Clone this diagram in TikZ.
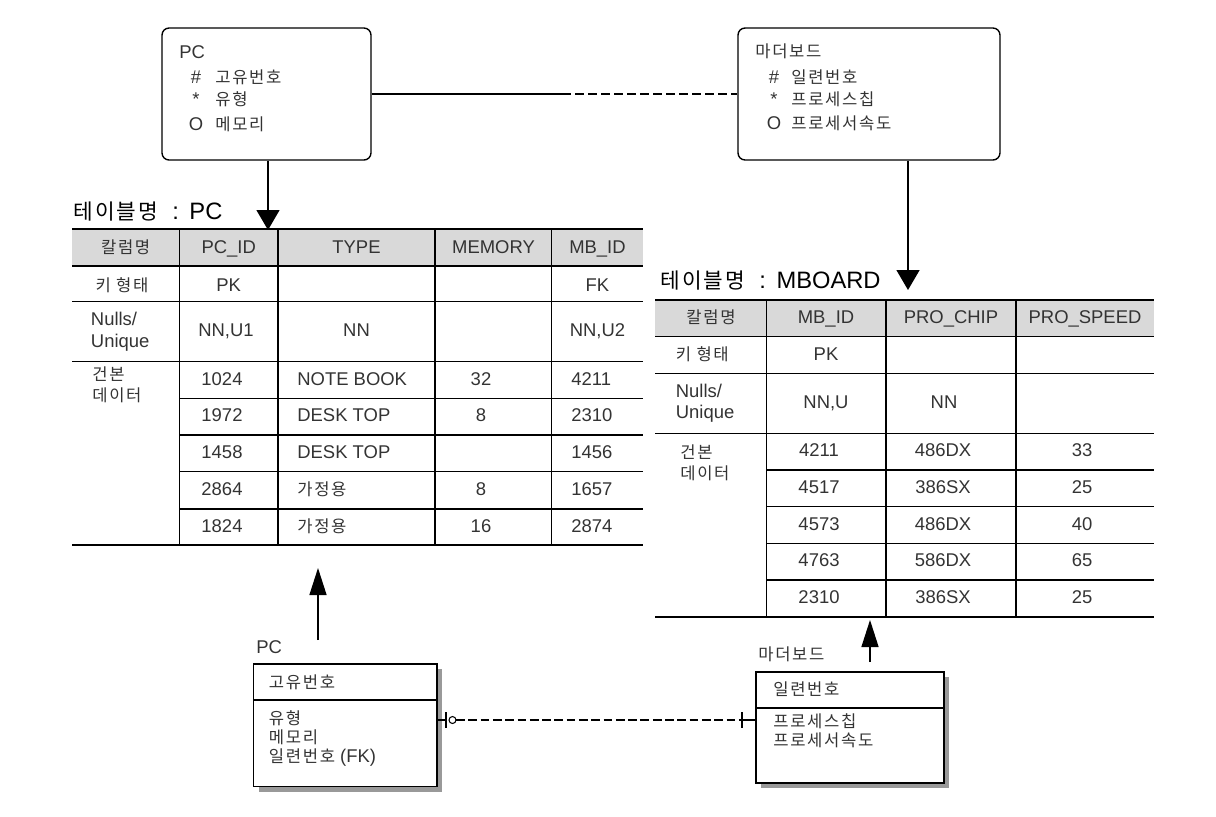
\documentclass[tikz,border=0pt]{standalone}
\usepackage{fontspec}
\setmainfont{Liberation Sans}
\newfontfamily\kr[Scale=0.9,LetterSpace=10]{Noto Sans CJK KR}
\usetikzlibrary{arrows.meta,shadows}

\begin{document}
\begin{tikzpicture}[x=0.02cm,y=-0.02cm,
    txt/.style={font=\fontsize{10.5}{12}\selectfont, text=black!80, inner sep=0pt, text height=8pt, text depth=2pt},
    lines/.style={font=\fontsize{10.5}{12}\selectfont, text=black!80, inner sep=0pt, align=left},
    ttl/.style={font=\fontsize{13.5}{15}\selectfont, inner sep=0pt, anchor=west, text height=9.5pt, text depth=2.5pt},
    rule/.style={line width=0.6pt},
    bold rule/.style={line width=1.2pt},
    entity/.style={draw, rounded corners=4pt, line width=0.8pt},
    keybox/.style={draw, line width=0.8pt, fill=white,
        drop shadow={shadow xshift=0.1cm, shadow yshift=-0.1cm, fill=black!40, opacity=1}},
    downtip/.style={line width=0.8pt, -{Triangle[length=0.4cm, width=0.46cm]}},
    uptip/.style={line width=0.8pt, -{Triangle[length=0.54cm, width=0.34cm]}}]

    \useasboundingbox (0,0) rectangle (1216,816);

    % Logical entities
    \node[entity, minimum width=4.18cm, minimum height=2.64cm] (pclog) at (266.5,94) {};
    \node[entity, minimum width=5.24cm, minimum height=2.64cm] (mblog) at (869,94) {};

    \node[txt, anchor=west] (pclogname) at (179,53) {PC};
    \foreach \i/\y/\sy/\nm in {1/78/\#/고유번호, 2/100/*/유형, 3/125/O/메모리}{
        \node[txt] (pcsym\i) at (196,\y) {\sy};
        \node[txt, anchor=west] (pcatt\i) at (215,\y) {\kr \nm};
    }

    \node[txt, anchor=west] (mblogname) at (755,52) {\kr 마더보드};
    \foreach \i/\y/\sy/\nm in {1/78/\#/일련번호, 2/100/*/프로세스칩, 3/124/O/프로세서속도}{
        \node[txt] (mbsym\i) at (774,\y) {\sy};
        \node[txt, anchor=west] (mbatt\i) at (791,\y) {\kr \nm};
    }

    % Relationship (solid half, dashed half)
    \coordinate (brk) at (562,94);
    \draw[line width=0.8pt] (pclog.east) -- (brk);
    \draw[line width=0.8pt, dash pattern=on 5pt off 2.4pt] (brk) -- (mblog.west);

    % Down arrows to tables
    \coordinate (pctip) at (268,230);
    \coordinate (mbtip) at (908,290);
    \draw[downtip] (pclog.south -| pctip) -- (pctip);
    \draw[downtip] (mblog.south -| mbtip) -- (mbtip);

    % Table titles
    \node[ttl] (pctitle) at (73,213) {{\kr 테이블명}\hspace{8pt}:\hspace{6pt}PC};
    \node[ttl] (mbtitle) at (660,282) {{\kr 테이블명}\hspace{8pt}:\hspace{6pt}MBOARD};

    % PC table grid
    \fill[black!15] (72,229.3) rectangle (643,266);
    \draw[bold rule] (72,229.3) -- (643,229.3);
    \foreach \y in {266,301.7,361.7}
        \draw[rule] (72,\y) -- (643,\y);
    \foreach \y in {398.3,435,471.7,509}
        \draw[rule] (179.4,\y) -- (643,\y);
    \draw[bold rule] (72,545) -- (643,545);
    \foreach \x in {179.4,278,435,551.8}
        \draw[rule] (\x,229.3) -- (\x,545);

    % PC table header
    \foreach \i/\x/\nm in {1/125.7/{\kr 칼럼명}, 2/228.7/PC\_ID, 3/356.5/TYPE, 4/493.5/MEMORY, 5/597.5/MB\_ID}
        \node[txt] (pchd\i) at (\x,248) {\nm};

    % PC table key / nulls rows
    \node[txt] (pckey0) at (122,286.7) {\kr 키 형태};
    \node[txt] (pckey1) at (228.7,286.7) {PK};
    \node[txt] (pckey5) at (597.5,286.7) {FK};
    \node[lines, anchor=west] (pcnul0) at (90.6,331.7) {Nulls/\\Unique};
    \node[txt] (pcnul1) at (226,331.7) {NN,U1};
    \node[txt] (pcnul2) at (356.5,331.7) {NN};
    \node[txt] (pcnul5) at (597.5,331.7) {NN,U2};
    \node[lines, anchor=west] (pcsmp0) at (92,385) {{\kr 건본}\\{\kr 데이터}};

    % PC table sample data
    \foreach \r/\y/\a/\b/\c/\d in {1/380/1024/{NOTE BOOK}/32/4211, 2/416.7/1972/{DESK TOP}/8/2310,
        3/453.3/1458/{DESK TOP}/{}/1456, 4/490.3/2864/{\kr 가정용}/8/1657, 5/527/1824/{\kr 가정용}/16/2874}{
        \node[txt] (pc\r a) at (222,\y) {\a};
        \node[txt, anchor=west] (pc\r b) at (297,\y) {\b};
        \node[txt] (pc\r c) at (481,\y) {\c};
        \node[txt, anchor=west] (pc\r d) at (571,\y) {\d};
    }

    % MBOARD table grid
    \fill[black!15] (655,300) rectangle (1153.5,336.7);
    \draw[bold rule] (655,300) -- (1153.5,300);
    \foreach \y in {336.7,373.3,433.3}
        \draw[rule] (655,\y) -- (1153.5,\y);
    \foreach \y in {470,506.7,543.3,580}
        \draw[rule] (766.7,\y) -- (1153.5,\y);
    \draw[bold rule] (655,616.7) -- (1153.5,616.7);
    \foreach \x in {766.7,886,1016}
        \draw[rule] (\x,300) -- (\x,616.7);

    % MBOARD table header
    \foreach \i/\x/\nm in {1/711/{\kr 칼럼명}, 2/826/MB\_ID, 3/951/PRO\_CHIP, 4/1085/PRO\_SPEED}
        \node[txt] (mbhd\i) at (\x,318.3) {\nm};

    % MBOARD table key / nulls rows
    \node[txt, anchor=west] (mbkey0) at (675.5,355) {\kr 키 형태};
    \node[txt] (mbkey1) at (826,355) {PK};
    \node[lines, anchor=west] (mbnul0) at (675.5,403.3) {Nulls/\\Unique};
    \node[txt] (mbnul1) at (826,403.3) {NN,U};
    \node[txt] (mbnul2) at (944,403.3) {NN};
    \node[lines, anchor=west] (mbsmp0) at (680,462.5) {{\kr 건본}\\{\kr 데이터}};

    % MBOARD table sample data
    \foreach \r/\y/\a/\b/\c in {1/451.7/4211/486DX/33, 2/488.3/4517/386SX/25, 3/525/4573/486DX/40,
        4/561.7/4763/586DX/65, 5/598.3/2310/386SX/25}{
        \node[txt] (mb\r a) at (819,\y) {\a};
        \node[txt] (mb\r b) at (943,\y) {\b};
        \node[txt] (mb\r c) at (1082,\y) {\c};
    }

    % Up arrows from physical entities
    \coordinate (pcfoot) at (318,640);
    \coordinate (pcup) at (318,568);
    \coordinate (mbfoot) at (870,662);
    \coordinate (mbup) at (870,620);
    \draw[uptip] (pcfoot) -- (pcup);
    \draw[uptip] (mbfoot) -- (mbup);

    % Physical entities
    \node[keybox, minimum width=3.67cm, minimum height=2.45cm] (pcie) at (345.3,725.4) {};
    \node[keybox, minimum width=3.76cm, minimum height=2.22cm] (mbie) at (850,727.5) {};
    \draw[rule] (pcie.west |- 0,700) -- (pcie.east |- 0,700);
    \draw[rule] (mbie.west |- 0,708) -- (mbie.east |- 0,708);

    \node[txt, anchor=west] (pciename) at (256,648) {PC};
    \node[txt, anchor=west] (pciekey) at (268.6,683.3) {\kr 고유번호};
    \node[lines, anchor=north west, font=\fontsize{10.5}{10.8}\selectfont] (pcieatt) at (268.6,710)
        {{\kr 유형}\\{\kr 메모리}\\{\kr 일련번호} (FK)};

    \node[txt, anchor=west] (mbiename) at (758,655) {\kr 마더보드};
    \node[txt, anchor=west] (mbiekey) at (773,690) {\kr 일련번호};
    \node[lines, anchor=north west, font=\fontsize{10.5}{10.8}\selectfont] (mbieatt) at (773,713)
        {{\kr 프로세스칩}\\{\kr 프로세서속도}};

    % Relationship between physical entities
    \coordinate (optL) at (446,720);
    \coordinate (oneR) at (742,720);
    \draw[rule] (pcie.east |- optL) -- (optL);
    \draw[rule] (optL |- 0,712) -- (optL |- 0,728);
    \draw[rule] (452.5,720) circle (0.07cm);
    \draw[rule, dash pattern=on 5pt off 2pt] (456,720) -- (oneR);
    \draw[rule] (oneR |- 0,712) -- (oneR |- 0,728);
    \draw[rule] (oneR) -- (mbie.west |- oneR);
\end{tikzpicture}
\end{document}
